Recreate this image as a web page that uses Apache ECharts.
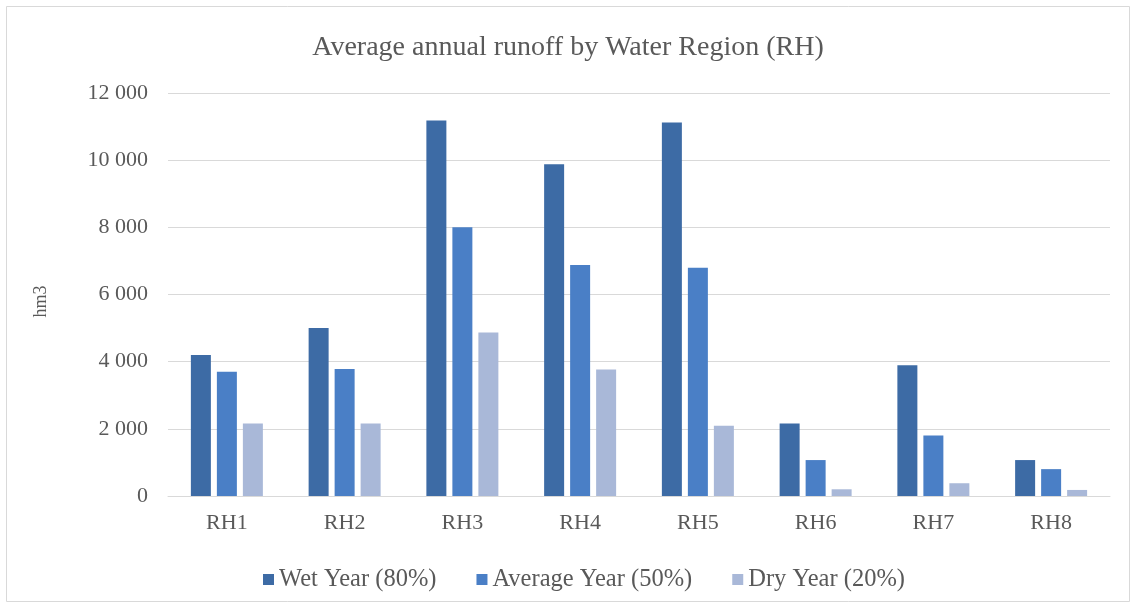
<!DOCTYPE html>
<html>
<head>
<meta charset="utf-8">
<style>
  html, body { margin: 0; padding: 0; background: #fff; }
  #chart { width: 1136px; height: 608px; }
</style>
<script src="https://cdn.jsdelivr.net/npm/echarts@6/dist/echarts.min.js"></script>
</head>
<body>
<div id="chart"></div>
<script>
// Water regions and annual runoff (hm3) per hydrological year type
const regions = ['RH1', 'RH2', 'RH3', 'RH4', 'RH5', 'RH6', 'RH7', 'RH8'];
const wetYear = [4200, 5000, 11180, 9880, 11120, 2160, 3890, 1070];
const averageYear = [3700, 3780, 8000, 6880, 6800, 1070, 1800, 800];
const dryYear = [2160, 2160, 4870, 3770, 2090, 200, 380, 180];
const seriesNames = ['Wet Year (80%)', 'Average Year (50%)', 'Dry Year (20%)'];

const FONT = '"Liberation Serif", "Times New Roman", serif';
const TEXT = '#595959';

const chart = echarts.init(document.getElementById('chart'));

// thousands separated by a space: 12 000
function fmt(v) {
  return String(v).replace(/\B(?=(\d{3})+(?!\d))/g, ' ');
}

function barSeries(name, data, color) {
  return {
    name: name,
    type: 'bar',
    data: data,
    barWidth: 20,
    barGap: '30%',
    itemStyle: { color: color },
    emphasis: { disabled: true }
  };
}

chart.setOption({
  animation: false,
  backgroundColor: '#ffffff',
  graphic: [{
    type: 'rect',
    shape: { x: 6.5, y: 6.5, width: 1123, height: 595 },
    style: { fill: 'none', stroke: '#d9d9d9', lineWidth: 1 },
    z: -1
  }],
  title: {
    text: 'Average annual runoff by Water Region (RH)',
    left: 'center',
    top: 29,
    textStyle: { fontFamily: FONT, fontSize: 28, fontWeight: 'normal', color: TEXT }
  },
  legend: {
    data: seriesNames,
    top: 562,
    left: 258,
    itemWidth: 11,
    itemHeight: 11,
    itemGap: 40,
    icon: 'rect',
    textStyle: { fontFamily: FONT, fontSize: 24.5, color: TEXT }
  },
  grid: { left: 168, right: 26, top: 93, bottom: 112 },
  xAxis: {
    type: 'category',
    data: regions,
    axisLine: { lineStyle: { color: '#d9d9d9' } },
    axisTick: { show: false },
    axisLabel: { fontFamily: FONT, fontSize: 22, color: TEXT, margin: 16 }
  },
  yAxis: {
    type: 'value',
    min: 0,
    max: 12000,
    interval: 2000,
    name: 'hm3',
    nameLocation: 'middle',
    nameGap: 118,
    nameRotate: 90,
    nameTextStyle: { fontFamily: FONT, fontSize: 18, color: TEXT, padding: [0, 14, 0, 0] },
    axisLine: { show: false },
    axisTick: { show: false },
    splitLine: { lineStyle: { color: '#d9d9d9', width: 1 } },
    axisLabel: { fontFamily: FONT, fontSize: 22, color: TEXT, margin: 20, formatter: fmt }
  },
  series: [
    barSeries(seriesNames[0], wetYear, '#3d6ba5'),
    barSeries(seriesNames[1], averageYear, '#4a7fc6'),
    barSeries(seriesNames[2], dryYear, '#a9b8d8')
  ]
});
</script>
</body>
</html>
